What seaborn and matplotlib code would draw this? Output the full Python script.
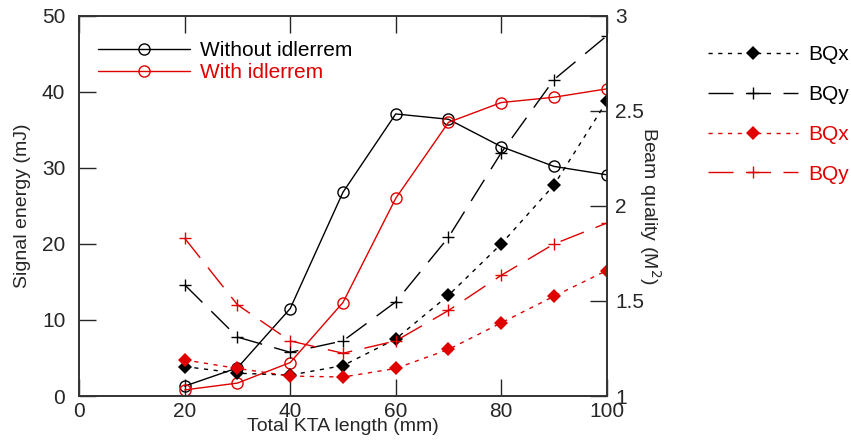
import numpy as np
import pandas as pd
import seaborn as sns
import matplotlib.pyplot as plt
from matplotlib.lines import Line2D

length = [20, 30, 40, 50, 60, 70, 80, 90, 100]

# signal energy (mJ)
energy_without = [1.3, 3.7, 11.5, 26.8, 37.1, 36.4, 32.8, 30.2, 29.1]
energy_with = [0.8, 1.7, 4.4, 12.3, 26.0, 36.0, 38.6, 39.3, 40.4]

# beam quality M^2
bqx_without = [1.155, 1.12, 1.11, 1.16, 1.30, 1.53, 1.80, 2.11, 2.55]
bqy_without = [1.585, 1.31, 1.23, 1.29, 1.495, 1.835, 2.28, 2.665, 2.895]
bqx_with = [1.19, 1.145, 1.105, 1.10, 1.145, 1.245, 1.385, 1.525, 1.66]
bqy_with = [1.83, 1.48, 1.29, 1.225, 1.29, 1.45, 1.635, 1.80, 1.91]

sns.set_style("ticks")
plt.rcParams['font.family'] = ['Liberation Sans', 'DejaVu Sans']

red = '#e00000'
fig, ax = plt.subplots(figsize=(8.51, 4.41), dpi=100)
plt.subplots_adjust(left=0.093, right=0.713, top=0.964, bottom=0.102)
ax2 = ax.twinx()

sns.lineplot(x=length, y=energy_without, ax=ax, color='k', linewidth=1,
             marker='o', markersize=8, markerfacecolor='none',
             markeredgecolor='k', markeredgewidth=1, label='Without idlerrem')
sns.lineplot(x=length, y=energy_with, ax=ax, color=red, linewidth=1,
             marker='o', markersize=8, markerfacecolor='none',
             markeredgecolor=red, markeredgewidth=1, label='With idlerrem')

dot = (0, (3, 4))
dash = (0, (18, 9))
sns.lineplot(x=length, y=bqx_without, ax=ax2, color='k', linewidth=1, linestyle=dot,
             marker='D', markersize=7, markeredgewidth=0, label='BQx')
sns.lineplot(x=length, y=bqy_without, ax=ax2, color='k', linewidth=1, linestyle=dash,
             marker='+', markersize=9, markeredgewidth=1, markeredgecolor='k', label='BQy')
sns.lineplot(x=length, y=bqx_with, ax=ax2, color=red, linewidth=1, linestyle=dot,
             marker='D', markersize=7, markeredgewidth=0, label='BQx ')
sns.lineplot(x=length, y=bqy_with, ax=ax2, color=red, linewidth=1, linestyle=dash,
             marker='+', markersize=9, markeredgewidth=1, markeredgecolor=red, label='BQy ')

ax.set_xlim(0, 100)
ax.set_ylim(0, 50)
ax2.set_ylim(1, 3)
ax.set_xticks([0, 20, 40, 60, 80, 100])
ax.set_yticks([0, 10, 20, 30, 40, 50])
ax2.set_yticks([1, 1.5, 2, 2.5, 3])
ax2.set_yticklabels(['1', '1.5', '2', '2.5', '3'])

ax.tick_params(axis='x', direction='in', length=12, width=1, top=True,
               labelsize=15, pad=4)
ax.tick_params(axis='y', direction='in', length=12, width=1, labelsize=15, pad=10)
ax2.tick_params(axis='y', direction='in', length=12, width=1, labelsize=15, pad=6)

for a in (ax, ax2):
    for s in a.spines.values():
        s.set_visible(True)
        s.set_color('#333333')
        s.set_linewidth(1.2)

ax.set_xlabel('Total KTA length (mm)', fontsize=14, labelpad=-2)
ax.set_ylabel('Signal energy (mJ)', fontsize=14, labelpad=8)
ax2.set_ylabel('Beam quality (M$^2$)', fontsize=14, rotation=-90, va='center')
ax2.yaxis.set_label_coords(1.081, 0.5)

h1, l1 = ax.get_legend_handles_labels()
leg1 = ax.legend(h1, l1, loc='upper left', bbox_to_anchor=(0.02, 0.955),
                 frameon=False, fontsize=15, handlelength=4.4,
                 labelspacing=0.15, handletextpad=0.5, borderaxespad=0)
for t, c in zip(leg1.get_texts(), ['k', red]):
    t.set_color(c)

if ax2.get_legend():
    ax2.get_legend().remove()
h2 = [
    Line2D([], [], color='k', lw=1, linestyle=dot, marker='D', markersize=7, markeredgewidth=0),
    Line2D([], [], color='k', lw=1, linestyle=dash, marker='+', markersize=9),
    Line2D([], [], color=red, lw=1, linestyle=dot, marker='D', markersize=7, markeredgewidth=0),
    Line2D([], [], color=red, lw=1, linestyle=dash, marker='+', markersize=9),
]
leg2 = fig.legend(h2, ['BQx', 'BQy', 'BQx', 'BQy'], loc='upper left',
                  bbox_to_anchor=(0.81, 0.94), frameon=False, fontsize=15,
                  handlelength=4.3, labelspacing=1.0, handletextpad=0.5)
for t, c in zip(leg2.get_texts(), ['k', 'k', red, red]):
    t.set_color(c)

fig.savefig('out.png', dpi=100)
